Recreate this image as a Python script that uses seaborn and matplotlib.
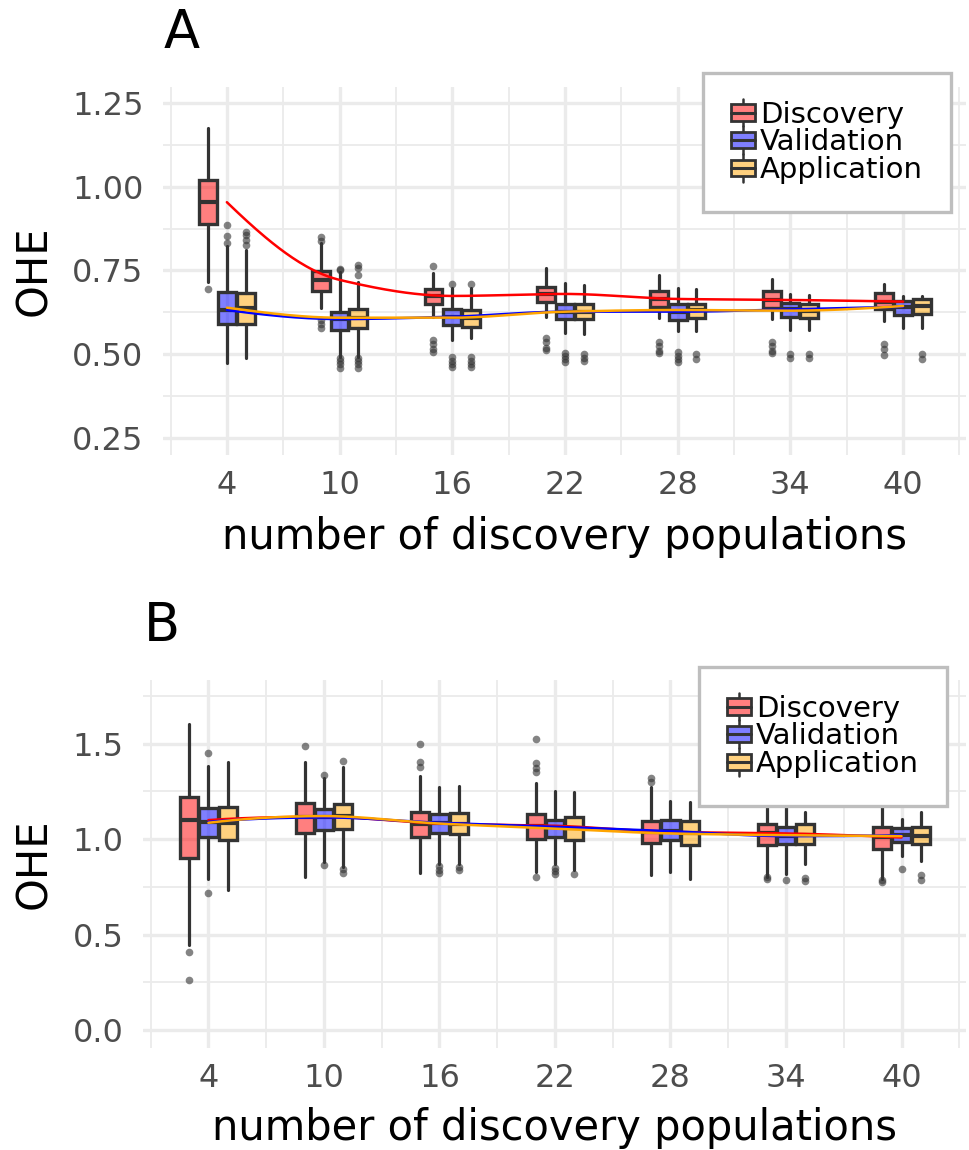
import numpy as np
import pandas as pd
import matplotlib
matplotlib.use("Agg")
import matplotlib.pyplot as plt
import seaborn as sns
from matplotlib.legend_handler import HandlerBase
from matplotlib.patches import Rectangle, Patch
from matplotlib.lines import Line2D

# ---------------- data ----------------
groups = ["Discovery", "Validation", "Application"]
n_pops = [4, 10, 16, 22, 28, 34, 40]

# Panel A  (box statistics per group, one value per number of discovery populations)
A_whishi = {"Discovery":   [1.175, 0.832, 0.742, 0.757, 0.737, 0.724, 0.710],
            "Validation":  [0.822, 0.747, 0.697, 0.712, 0.697, 0.680, 0.674],
            "Application": [0.812, 0.717, 0.697, 0.707, 0.694, 0.676, 0.674]}
A_q3 = {"Discovery":   [1.021, 0.749, 0.695, 0.702, 0.689, 0.689, 0.682],
        "Validation":  [0.685, 0.627, 0.634, 0.650, 0.650, 0.652, 0.660],
        "Application": [0.682, 0.635, 0.632, 0.650, 0.650, 0.650, 0.664]}
A_med = {"Discovery":   [0.954, 0.722, 0.674, 0.680, 0.665, 0.662, 0.657],
         "Validation":  [0.632, 0.605, 0.612, 0.627, 0.627, 0.634, 0.642],
         "Application": [0.639, 0.609, 0.609, 0.627, 0.632, 0.630, 0.644]}
A_q1 = {"Discovery":   [0.888, 0.689, 0.650, 0.656, 0.640, 0.637, 0.634],
        "Validation":  [0.590, 0.571, 0.588, 0.605, 0.603, 0.612, 0.617],
        "Application": [0.590, 0.578, 0.581, 0.605, 0.608, 0.608, 0.619]}
A_whislo = {"Discovery":   [0.717, 0.639, 0.612, 0.612, 0.608, 0.605, 0.600],
            "Validation":  [0.473, 0.493, 0.543, 0.563, 0.568, 0.571, 0.578],
            "Application": [0.490, 0.493, 0.548, 0.561, 0.568, 0.573, 0.578]}
A_out = {"Discovery":   [[0.694], [0.850, 0.838, 0.603, 0.590, 0.578],
                         [0.762, 0.543, 0.530, 0.515, 0.508], [0.549, 0.535, 0.520, 0.513],
                         [0.537, 0.525, 0.510, 0.503], [0.537, 0.525, 0.510, 0.503],
                         [0.531, 0.515, 0.498]],
         "Validation":  [[0.886, 0.854, 0.832], [0.755, 0.750, 0.489, 0.480, 0.470, 0.460],
                         [0.710, 0.493, 0.480, 0.470, 0.463], [0.504, 0.495, 0.485, 0.478],
                         [0.508, 0.495, 0.485, 0.478], [0.500, 0.490], []],
         "Application": [[0.866, 0.855, 0.840, 0.825], [0.767, 0.757, 0.737, 0.489, 0.480, 0.470, 0.460],
                         [0.710, 0.493, 0.480, 0.470, 0.463], [0.500, 0.490, 0.480],
                         [0.500, 0.485], [0.500, 0.490], [0.500, 0.485]]}

# Panel B
B_whishi = {"Discovery":   [1.603, 1.405, 1.330, 1.292, 1.274, 1.200, 1.190],
            "Validation":  [1.383, 1.320, 1.274, 1.253, 1.201, 1.170, 1.108],
            "Application": [1.405, 1.376, 1.280, 1.248, 1.196, 1.143, 1.140]}
B_q3 = {"Discovery":   [1.222, 1.187, 1.143, 1.131, 1.096, 1.082, 1.065],
        "Validation":  [1.161, 1.157, 1.131, 1.100, 1.103, 1.065, 1.056],
        "Application": [1.170, 1.184, 1.135, 1.114, 1.094, 1.079, 1.065]}
B_med = {"Discovery":   [1.100, 1.117, 1.082, 1.070, 1.038, 1.030, 1.009],
         "Validation":  [1.091, 1.114, 1.086, 1.065, 1.042, 1.016, 1.021],
         "Application": [1.086, 1.121, 1.082, 1.056, 1.030, 1.021, 1.016]}
B_q1 = {"Discovery":   [0.904, 1.033, 1.012, 1.003, 0.981, 0.969, 0.951],
        "Validation":  [1.012, 1.047, 1.033, 1.012, 0.998, 0.974, 0.986],
        "Application": [0.995, 1.052, 1.026, 0.998, 0.969, 0.977, 0.977]}
B_whislo = {"Discovery":   [0.444, 0.802, 0.823, 0.830, 0.811, 0.802, 0.794],
            "Validation":  [0.794, 0.881, 0.872, 0.872, 0.829, 0.820, 0.911],
            "Application": [0.736, 0.855, 0.869, 0.837, 0.790, 0.872, 0.886]}
B_out = {"Discovery":   [[0.409, 0.261], [1.488], [1.498, 1.405, 1.380],
                         [1.523, 1.400, 1.375, 1.353, 0.802], [1.318, 1.300],
                         [0.800, 0.790], [0.785, 0.775]],
         "Validation":  [[1.453, 0.718], [1.335, 0.864], [0.860, 0.840, 0.825],
                         [0.850, 0.835, 0.820], [], [0.785], [0.846]],
         "Application": [[], [1.409, 0.845, 0.825], [0.855, 0.840], [0.815], [],
                         [0.795, 0.780], [0.810, 0.785]]}

y_ticks_A = [0.25, 0.50, 0.75, 1.00, 1.25]
y_ticks_B = [0.0, 0.5, 1.0, 1.5]

# ---------------- styling ----------------
fills = {"Discovery": (1.0, 0.0, 0.0, 0.5),
         "Validation": (0.0, 0.0, 1.0, 0.5),
         "Application": (1.0, 0.647, 0.0, 0.5)}
lines = {"Discovery": "#FF0000", "Validation": "#0000FF", "Application": "#FFA500"}
offsets = {"Discovery": -1.0, "Validation": 0.0, "Application": 1.0}
EDGE = "#333333"
GRID = "#EBEBEB"
TICKC = "#4D4D4D"

sns.set_theme(style="whitegrid")
plt.rcParams["font.family"] = ["DejaVu Sans"]
plt.rcParams["text.color"] = "black"


def pchip(x, y, xs):
    x = np.asarray(x, float)
    y = np.asarray(y, float)
    h = np.diff(x)
    d = np.diff(y) / h
    n = len(x)
    m = np.zeros(n)
    for k in range(1, n - 1):
        if d[k - 1] * d[k] > 0:
            w1 = 2 * h[k] + h[k - 1]
            w2 = h[k] + 2 * h[k - 1]
            m[k] = (w1 + w2) / (w1 / d[k - 1] + w2 / d[k])

    def end(h0, h1, d0, d1):
        mm = ((2 * h0 + h1) * d0 - h0 * d1) / (h0 + h1)
        if np.sign(mm) != np.sign(d0):
            mm = 0.0
        elif np.sign(d0) != np.sign(d1) and abs(mm) > abs(3 * d0):
            mm = 3 * d0
        return mm
    m[0] = end(h[0], h[1], d[0], d[1])
    m[-1] = end(h[-1], h[-2], d[-1], d[-2])
    idx = np.clip(np.searchsorted(x, xs) - 1, 0, n - 2)
    t = (xs - x[idx]) / h[idx]
    h00 = 2 * t**3 - 3 * t**2 + 1
    h10 = t**3 - 2 * t**2 + t
    h01 = -2 * t**3 + 3 * t**2
    h11 = t**3 - t**2
    return h00 * y[idx] + h10 * h[idx] * m[idx] + h01 * y[idx + 1] + h11 * h[idx] * m[idx + 1]


class BoxHandler(HandlerBase):
    def create_artists(self, legend, orig_handle, xdescent, ydescent,
                       width, height, fontsize, trans):
        fc = orig_handle.get_facecolor()
        x0, y0 = -xdescent, -ydescent
        cx = x0 + width / 2
        arts = [
            Line2D([cx, cx], [y0 - 0.15 * height, y0 + 1.15 * height], color=EDGE, lw=1.8, transform=trans),
            Rectangle((x0, y0 + 0.12 * height), width, 0.76 * height, facecolor="white",
                      edgecolor="none", transform=trans),
            Rectangle((x0, y0 + 0.12 * height), width, 0.76 * height, facecolor=fc,
                      edgecolor=EDGE, lw=2.0, transform=trans),
            Line2D([x0, x0 + width], [y0 + 0.5 * height] * 2, color=EDGE, lw=2.2, transform=trans),
        ]
        return arts


fig = plt.figure(figsize=(9.69, 11.5), dpi=100)
axA = fig.add_axes([163 / 969, 1 - 455 / 1150, (966 - 163) / 969, 368 / 1150])
axB = fig.add_axes([143 / 969, 1 - 1048 / 1150, (966 - 143) / 969, 368 / 1150])


def draw_panel(ax, whishi, q3, med, q1, whislo, out, yticks, ylim, yfmt, leg_xy):
    for g in groups:
        stats = []
        for i in range(len(n_pops)):
            stats.append(dict(med=med[g][i], q1=q1[g][i], q3=q3[g][i],
                              whislo=whislo[g][i], whishi=whishi[g][i],
                              fliers=np.array(out[g][i])))
        pos = [p + offsets[g] for p in n_pops]
        ax.bxp(stats, positions=pos, widths=0.95, patch_artist=True, showcaps=False,
               manage_ticks=False,
               boxprops=dict(facecolor=fills[g], edgecolor=EDGE, linewidth=2.4),
               medianprops=dict(color=EDGE, linewidth=3.0, solid_capstyle="butt"),
               whiskerprops=dict(color=EDGE, linewidth=2.3),
               flierprops=dict(marker="o", markerfacecolor=EDGE, markeredgecolor="none",
                               markersize=5.5, alpha=0.6))
    xs = np.linspace(min(n_pops), max(n_pops), 300)
    for g in groups:
        ys = pchip(n_pops, med[g], xs)
        df = pd.DataFrame({"x": xs, "y": ys})
        sns.lineplot(data=df, x="x", y="y", color=lines[g], lw=1.8, ax=ax, zorder=5)

    ax.set_xticks(n_pops)
    ax.set_xticklabels([str(v) for v in n_pops])
    ax.set_xticks([1, 7, 13, 19, 25, 31, 37, 43], minor=True)
    ax.set_yticks(yticks)
    ax.set_yticklabels([yfmt.format(v) for v in yticks])
    step = yticks[1] - yticks[0]
    ymin = [yticks[0] - step / 2] + [v + step / 2 for v in yticks]
    ax.set_yticks(ymin, minor=True)
    ax.set_xlim(0.6, 43.35)
    ax.set_ylim(*ylim)
    ax.grid(which="major", color=GRID, linewidth=2.4)
    ax.grid(which="minor", color=GRID, linewidth=1.3)
    ax.set_axisbelow(True)
    for s in ax.spines.values():
        s.set_visible(False)
    ax.tick_params(which="both", length=0)
    ax.tick_params(axis="x", labelsize=23, labelcolor=TICKC, pad=11)
    ax.tick_params(axis="y", labelsize=23, labelcolor=TICKC, pad=14)
    ax.set_xlabel("number of discovery populations", fontsize=30, color="black")
    ax.set_ylabel("OHE", fontsize=30, color="black")

    handles = [Patch(facecolor=fills[g], edgecolor=EDGE, label=g) for g in groups]
    leg = ax.legend(handles=handles, labels=groups, loc="upper left",
                    bbox_to_anchor=leg_xy, bbox_transform=fig.transFigure,
                    handler_map={Patch: BoxHandler()}, fontsize=21,
                    frameon=True, fancybox=False, framealpha=1, edgecolor="#BEBEBE",
                    borderpad=0.95, labelspacing=-0.01, handlelength=0.82,
                    handleheight=0.75, handletextpad=0.18, borderaxespad=0)
    leg.get_frame().set_linewidth(2.4)
    for t in leg.get_texts():
        t.set_color("black")
    return ax


draw_panel(axA, A_whishi, A_q3, A_med, A_q1, A_whislo, A_out, y_ticks_A,
           (0.199, 1.298), "{:.2f}", (703 / 969, 1 - 73 / 1150))
draw_panel(axB, B_whishi, B_q3, B_med, B_q1, B_whislo, B_out, y_ticks_B,
           (-0.094, 1.834), "{:.1f}", (699 / 969, 1 - 667 / 1150))

axA.xaxis.set_label_coords(0.5, (455 - 537) / 368)
axA.xaxis.label.set_va("center")
axA.yaxis.set_label_coords((34 - 163) / (966 - 163), 0.5)
axA.yaxis.label.set_va("center")
axB.xaxis.set_label_coords(0.5, (1048 - 1128) / 368)
axB.xaxis.label.set_va("center")
axB.yaxis.set_label_coords((34 - 143) / (966 - 143), 0.5)
axB.yaxis.label.set_va("center")

fig.text(182 / 969, 1 - 33 / 1150, "A", fontsize=38, ha="center", va="center", color="black")
fig.text(162 / 969, 1 - 626 / 1150, "B", fontsize=38, ha="center", va="center", color="black")

fig.savefig("out.png", dpi=100, facecolor="white")
